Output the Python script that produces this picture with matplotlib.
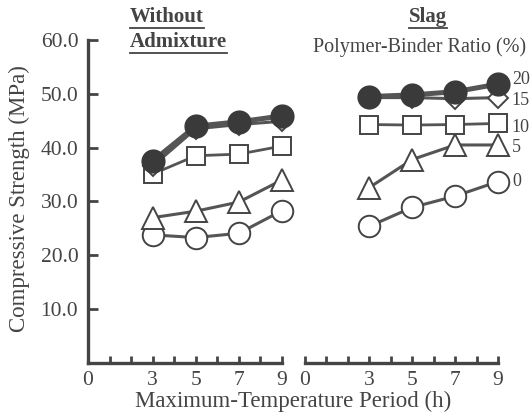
import matplotlib.pyplot as plt
from matplotlib.lines import Line2D
from matplotlib.ticker import MultipleLocator, FixedLocator

plt.rcParams['font.family'] = ['Liberation Serif', 'DejaVu Serif']

# Compressive strength (MPa) vs maximum-temperature period (h)
periods = [3, 5, 7, 9]
ratios = ['20', '15', '10', '5', '0']

plain_20 = [37.5, 44.0, 44.8, 45.9]
plain_15 = [36.6, 43.5, 44.3, 44.9]
plain_10 = [35.1, 38.5, 38.8, 40.3]
plain_5 = [27.0, 28.2, 29.9, 34.0]
plain_0 = [23.8, 23.3, 24.1, 28.3]

slag_20 = [49.5, 49.8, 50.4, 51.8]
slag_15 = [49.3, 49.3, 49.1, 49.3]
slag_10 = [44.3, 44.2, 44.3, 44.5]
slag_5 = [32.6, 37.8, 40.5, 40.5]
slag_0 = [25.4, 28.9, 31.0, 33.7]

xtick_labels = ['0', '3', '5', '7', '9']
ytick_vals = [10, 20, 30, 40, 50, 60]

W, H = 532, 415
ink = '#444444'
line_c = '#555555'
fill_c = '#3a3a3a'

fig = plt.figure(figsize=(W / 100, H / 100), dpi=100)


def px(x, y):
    return x / W, 1 - y / H


bottom = (H - 363) / H
height = (363 - 40) / H
ax1 = fig.add_axes([88 / W, bottom, (282 - 88) / W, height])
ax2 = fig.add_axes([305 / W, bottom, (498 - 305) / W, height])

styles = [
    dict(marker='o', ms=16, mfc=fill_c, mec=fill_c, lw=3.6),
    dict(marker='D', ms=10.5, mfc='white', mec=ink, lw=2.2),
    dict(marker='s', ms=13, mfc='white', mec=ink, lw=2.0),
    dict(marker='^', ms=16, mfc='white', mec=ink, lw=2.2),
    dict(marker='o', ms=15.5, mfc='white', mec=ink, lw=2.2),
]

plain = [plain_20, plain_15, plain_10, plain_5, plain_0]
slag = [slag_20, slag_15, slag_10, slag_5, slag_0]

# draw from the bottom series up so the filled circles sit on top
for ax, sets in [(ax1, plain), (ax2, slag)]:
    for i in range(len(sets) - 1, -1, -1):
        st = styles[i]
        ax.plot(periods, sets[i], color=line_c, lw=st['lw'], marker=st['marker'],
                ms=st['ms'], mfc=st['mfc'], mec=st['mec'], mew=1.4,
                clip_on=False, zorder=3 + (len(sets) - i))

# ratio labels at the right end of the slag panel
label_dy = [3, -2, -3, -2, 0]
for i, lab in enumerate(ratios):
    ax2.annotate(lab, (periods[-1], slag[i][-1]), xytext=(10, label_dy[i]),
                 textcoords='offset points', ha='left', va='center',
                 fontsize=13, color=ink, annotation_clip=False)

for ax in (ax1, ax2):
    ax.set_xlim(0, 9)
    ax.set_ylim(0, 60)
    ax.set_facecolor('none')
    for s in ['top', 'right']:
        ax.spines[s].set_visible(False)
    ax.spines['bottom'].set_linewidth(2.4)
    ax.spines['bottom'].set_color(ink)
    ax.xaxis.set_major_locator(FixedLocator([0, 3, 5, 7, 9]))
    ax.set_xticklabels(xtick_labels)
    ax.xaxis.set_minor_locator(MultipleLocator(1))
    ax.tick_params(axis='x', which='both', direction='in', length=5, width=2,
                   color=ink, labelsize=15.5, labelcolor=ink, pad=6)

ax1.spines['left'].set_linewidth(2.4)
ax1.spines['left'].set_color(ink)
ax1.set_yticks(ytick_vals)
ax1.set_yticklabels(['%.1f' % v for v in ytick_vals])
ax1.tick_params(axis='y', direction='in', length=7, width=2, color=ink,
                labelsize=15.5, labelcolor=ink, pad=7)

ax2.spines['left'].set_visible(False)
ax2.set_yticks([])

fig.text(*px(19, 199), 'Compressive Strength (MPa)', rotation=90,
         ha='center', va='center', fontsize=16.5, color=ink)
fig.text(*px(293, 401), 'Maximum-Temperature Period (h)',
         ha='center', va='center', fontsize=16.5, color=ink)

heads = [
    fig.text(*px(130, 22), 'Without', ha='left', va='baseline',
             fontsize=15, fontweight='bold', color=ink),
    fig.text(*px(130, 47), 'Admixture', ha='left', va='baseline',
             fontsize=15, fontweight='bold', color=ink),
    fig.text(*px(428, 22), 'Slag', ha='center', va='baseline',
             fontsize=15, fontweight='bold', color=ink),
]
fig.text(*px(420, 52), 'Polymer-Binder Ratio (%)', ha='center', va='baseline',
         fontsize=14.5, color=ink)

# underline the bold headings
fig.canvas.draw()
r = fig.canvas.get_renderer()
for t in heads:
    bb = t.get_window_extent(r)
    yb = bb.y0 - 1
    fig.add_artist(Line2D([bb.x0 / W, bb.x1 / W], [yb / H, yb / H],
                          transform=fig.transFigure, color=ink, lw=1.3))

fig.savefig('out.png', dpi=100)
